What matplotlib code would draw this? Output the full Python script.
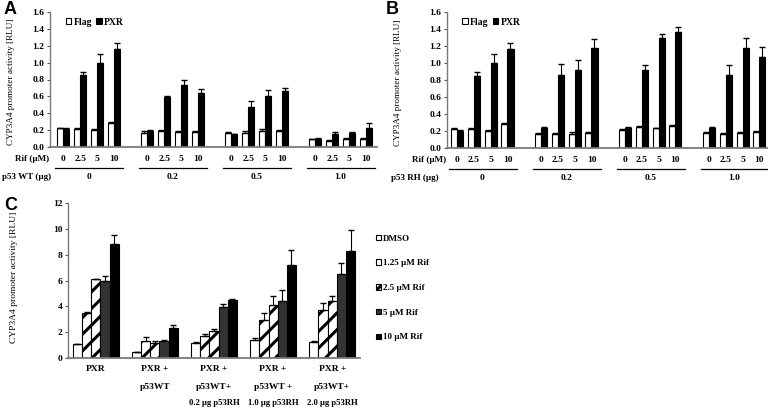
import numpy as np
import matplotlib
matplotlib.use('Agg')
import matplotlib.pyplot as plt
from matplotlib.patches import Patch
from matplotlib.transforms import blended_transform_factory

plt.rcParams['font.family'] = ['Liberation Serif', 'DejaVu Serif']
plt.rcParams['font.weight'] = 'bold'
plt.rcParams['hatch.linewidth'] = 2.2

# panels A and B: 4 Rif doses x 4 amounts of p53
rif_doses = ['0', '2.5', '5', '10']
p53_amounts = ['0', '0.2', '0.5', '1.0']

a_flag = [0.22, 0.21, 0.20, 0.28, 0.17, 0.19, 0.18, 0.18,
          0.17, 0.17, 0.19, 0.19, 0.09, 0.07, 0.10, 0.10]
a_flag_err = [0.01, 0.01, 0.01, 0.02, 0.02, 0.01, 0.01, 0.01,
              0.01, 0.02, 0.02, 0.01, 0.01, 0.01, 0.01, 0.01]
a_pxr = [0.21, 0.85, 1.00, 1.16, 0.19, 0.59, 0.74, 0.64,
         0.15, 0.48, 0.60, 0.66, 0.10, 0.16, 0.17, 0.23]
a_pxr_err = [0.01, 0.04, 0.10, 0.07, 0.01, 0.01, 0.06, 0.05,
             0.01, 0.06, 0.08, 0.04, 0.01, 0.02, 0.01, 0.05]

b_flag = [0.22, 0.22, 0.20, 0.28, 0.17, 0.17, 0.17, 0.18,
          0.21, 0.25, 0.23, 0.26, 0.18, 0.17, 0.18, 0.19]
b_flag_err = [0.01, 0.01, 0.01, 0.02, 0.01, 0.01, 0.02, 0.01,
              0.01, 0.01, 0.01, 0.01, 0.01, 0.01, 0.01, 0.01]
b_pxr = [0.20, 0.85, 1.00, 1.16, 0.24, 0.86, 0.92, 1.18,
         0.24, 0.92, 1.29, 1.37, 0.24, 0.86, 1.18, 1.07]
b_pxr_err = [0.01, 0.04, 0.11, 0.07, 0.01, 0.13, 0.11, 0.10,
             0.01, 0.06, 0.05, 0.05, 0.01, 0.12, 0.12, 0.12]

# panel C
c_groups = [['PXR'],
            ['PXR +', 'p53WT'],
            ['PXR +', 'p53WT+', '0.2 µg p53RH'],
            ['PXR +', 'p53WT +', '1.0 µg p53RH'],
            ['PXR +', 'p53WT+', '2.0 µg p53RH']]
c_labels = ['DMSO', '1.25 µM Rif', '2.5 µM Rif', '5 µM Rif', '10 µM Rif']
c_dmso = [1.08, 0.46, 1.19, 1.37, 1.26]
c_dmso_err = [0.04, 0.03, 0.03, 0.18, 0.03]
c_rif125 = [3.47, 1.29, 1.68, 2.97, 3.74]
c_rif125_err = [0.13, 0.31, 0.18, 0.51, 0.52]
c_rif25 = [6.10, 1.20, 2.06, 4.13, 4.39]
c_rif25_err = [0.05, 0.14, 0.21, 0.64, 0.38]
c_rif5 = [5.95, 1.30, 3.92, 4.44, 6.50]
c_rif5_err = [0.43, 0.07, 0.26, 0.85, 0.85]
c_rif10 = [8.83, 2.32, 4.52, 7.23, 8.31]
c_rif10_err = [0.72, 0.21, 0.08, 1.16, 1.63]

ylab = 'CYP3A4 promoter activity [RLU]'
fs = 6.8


def style_axes(ax):
    for s in ['top', 'right']:
        ax.spines[s].set_visible(False)
    ax.spines['left'].set_color('#7a7a7a')
    ax.spines['bottom'].set_color('#7a7a7a')
    ax.spines['left'].set_linewidth(1.0)
    ax.spines['bottom'].set_linewidth(1.3)
    ax.tick_params(axis='y', length=2.5, width=0.8, pad=1.5, labelsize=fs, color='#555555')
    ax.tick_params(axis='x', length=0, labelbottom=False)


def pair_panel(ax, flag, flag_err, pxr, pxr_err, p53_name, xlim, ylab_x, rif_px, p53_px):
    x = np.array([g * 5 + d for g in range(len(p53_amounts)) for d in range(len(rif_doses))])
    w = 0.36
    zero = np.zeros(len(x))
    ax.bar(x - w / 2, flag, w, color='white', edgecolor='black', lw=0.8, label='Flag')
    ax.bar(x + w / 2, pxr, w, color='black', edgecolor='black', lw=0.8, label='PXR')
    ax.errorbar(x - w / 2, flag, yerr=[zero, flag_err], fmt='none', ecolor='black',
                elinewidth=0.8, capsize=2.2, capthick=1.0)
    ax.errorbar(x + w / 2, pxr, yerr=[zero, pxr_err], fmt='none', ecolor='black',
                elinewidth=0.8, capsize=2.2, capthick=1.0)
    ax.set_xlim(*xlim)
    ax.set_ylim(0, 1.6)
    ax.set_yticks(np.arange(0, 1.61, 0.2))
    ax.set_yticklabels(['%.1f' % v for v in np.arange(0, 1.61, 0.2)])
    style_axes(ax)
    ax.set_ylabel(ylab, fontsize=6.6)
    ax.yaxis.set_label_coords(ylab_x, 0.48)
    ax.legend(loc='upper left', bbox_to_anchor=(0.03, 1.0), ncol=2, frameon=False,
              handlelength=0.6, handleheight=0.6, handletextpad=0.2,
              columnspacing=0.4, fontsize=7, borderaxespad=0.2)
    tr = blended_transform_factory(ax.transData, ax.transAxes)
    for i, xi in enumerate(x):
        ax.text(xi, -0.089, rif_doses[i % 4], transform=tr, ha='center', va='center', fontsize=fs)
    for g, amt in enumerate(p53_amounts):
        x0 = g * 5
        ax.plot([x0 - 0.5, x0 + 3.55], [-0.156, -0.156], transform=tr, color='black',
                lw=0.9, clip_on=False)
        ax.text(x0 + 1.5, -0.222, amt, transform=tr, ha='center', va='center', fontsize=fs)
    trf = blended_transform_factory(fig.transFigure, ax.transAxes)
    ax.text(rif_px / 768, -0.089, 'Rif (µM)', transform=trf, ha='left', va='center', fontsize=6.5)
    ax.text(p53_px / 768, -0.222, p53_name, transform=trf, ha='left', va='center', fontsize=6.5)


fig = plt.figure(figsize=(7.68, 4.08), dpi=100)

ax_a = fig.add_axes([50 / 768, 1 - 147 / 408, 327 / 768, 135 / 408])
pair_panel(ax_a, a_flag, a_flag_err, a_pxr, a_pxr_err, 'p53 WT (µg)', (-0.8, 18.67), -0.107, 15, 2)

ax_b = fig.add_axes([447 / 768, 1 - 148 / 408, 320 / 768, 136 / 408])
pair_panel(ax_b, b_flag, b_flag_err, b_pxr, b_pxr_err, 'p53 RH (µg)', (-0.6, 18.45), -0.14, 412, 391)

# panel C
ax_c = fig.add_axes([68 / 768, 1 - 358 / 408, 292 / 768, 155 / 408])
series = [c_dmso, c_rif125, c_rif25, c_rif5, c_rif10]
series_err = [c_dmso_err, c_rif125_err, c_rif25_err, c_rif5_err, c_rif10_err]
colors = ['white', 'white', 'white', '#333333', 'black']
hatches = [None, '//', '//', None, None]
bw = 0.155
gx = np.arange(len(c_groups))
handles = []
for i in range(5):
    xi = gx + (i - 2) * bw
    ax_c.bar(xi, series[i], bw, color=colors[i], edgecolor='black', lw=0.8, hatch=hatches[i])
    ax_c.errorbar(xi, series[i], yerr=[np.zeros(len(gx)), series_err[i]], fmt='none',
                  ecolor='black', elinewidth=0.8, capsize=2.2, capthick=1.0)
    handles.append(Patch(facecolor=colors[i], edgecolor='black', hatch=hatches[i], lw=0.8))
ax_c.set_xlim(-0.47, 4.47)
ax_c.set_ylim(0, 12)
ax_c.set_yticks(np.arange(0, 13, 2))
style_axes(ax_c)
ax_c.set_ylabel(ylab, fontsize=fs)
ax_c.yaxis.set_label_coords(-0.171, 0.52)
tr_c = blended_transform_factory(ax_c.transData, ax_c.transAxes)
rows = [-0.071, -0.187, -0.29]
for g, lines in enumerate(c_groups):
    for r, line in enumerate(lines):
        ax_c.text(gx[g], rows[r], line, transform=tr_c, ha='center', va='center',
                  fontsize=6.2 if r == 2 else fs)

fig.legend(handles, c_labels, loc='upper left', bbox_to_anchor=(372 / 768, 1 - 231 / 408),
           frameon=False, fontsize=6.5, labelspacing=1.85, handlelength=0.55,
           handleheight=0.55, handletextpad=0.25, borderaxespad=0)

for lbl, x, y in [('A', 4, 1), ('B', 386, 1), ('C', 4, 197)]:
    fig.text(x / 768, 1 - y / 408, lbl, family='Liberation Sans', weight='bold',
             fontsize=13, ha='left', va='top')

fig.savefig('out.png', dpi=100)
